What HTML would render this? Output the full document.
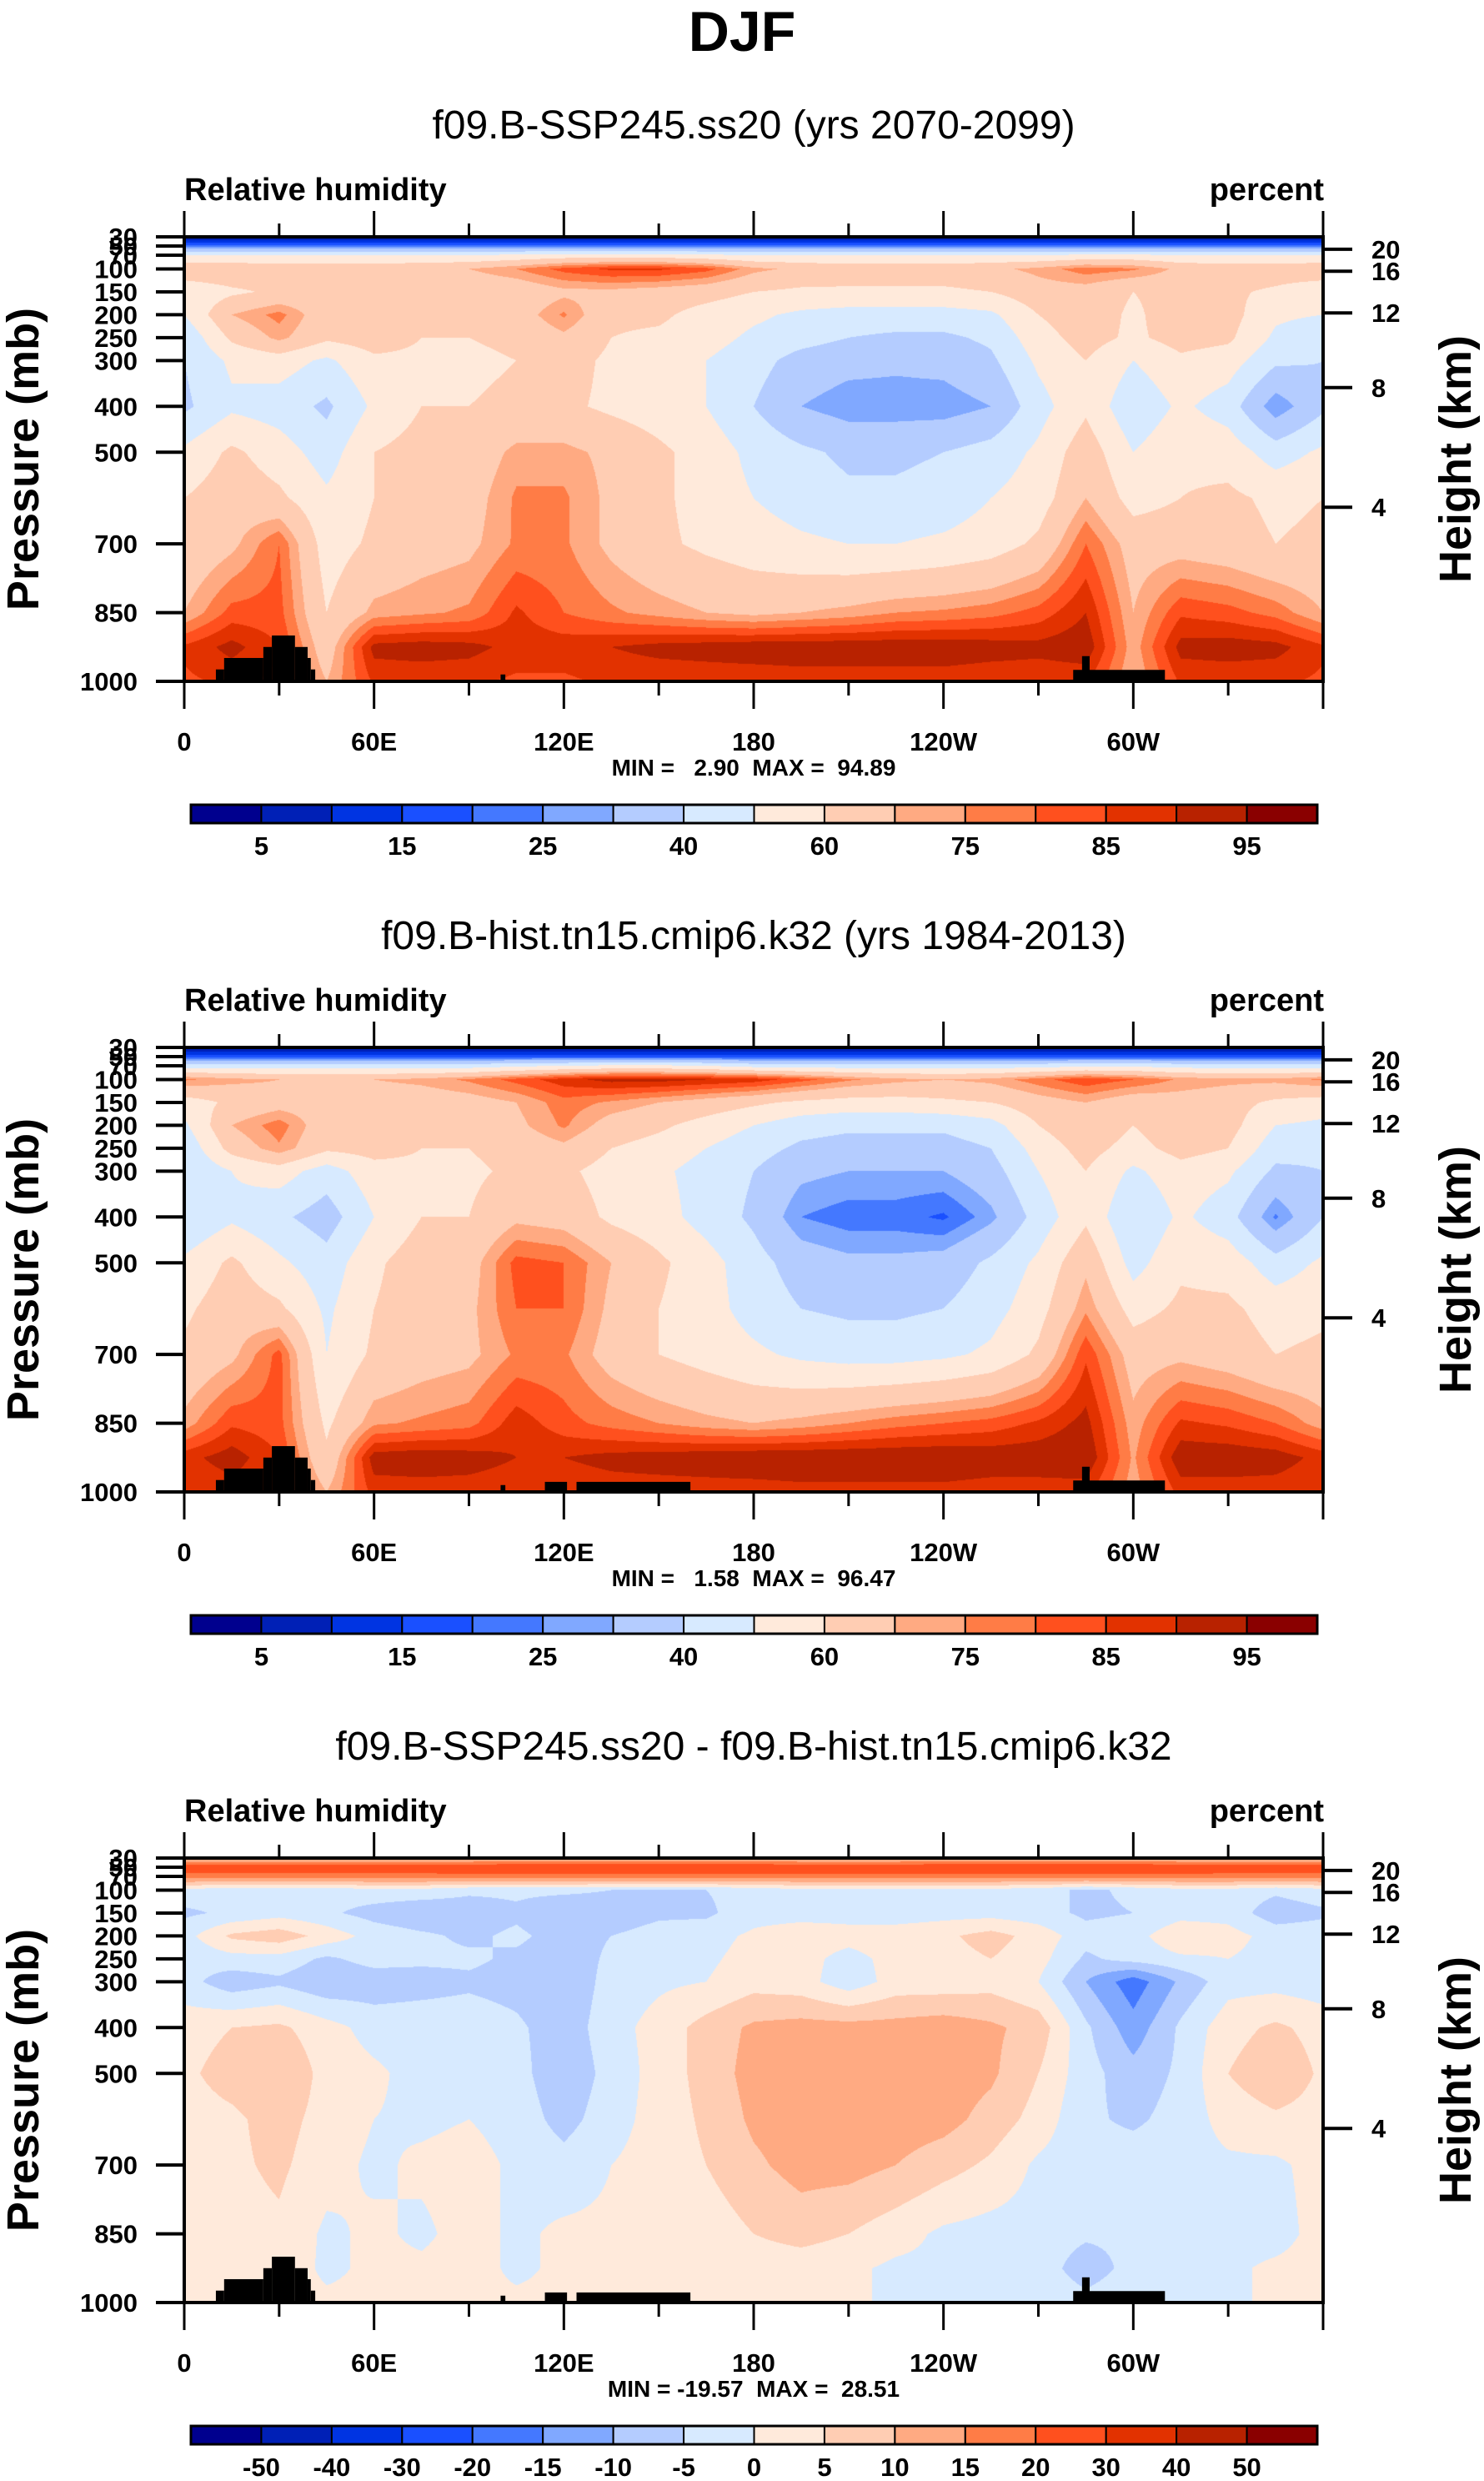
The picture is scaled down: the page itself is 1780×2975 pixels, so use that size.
<!DOCTYPE html>
<html><head><meta charset="utf-8"><style>
html,body{margin:0;padding:0;background:#fff;}
#wrap{position:relative;width:1780px;height:2975px;overflow:hidden;}
canvas{position:absolute;}
svg{position:absolute;left:0;top:0;}
text{font-family:"Liberation Sans",Arial,sans-serif;}
</style></head><body>
<div id="wrap">
<canvas id="c0" width="1366" height="533" style="left:221px;top:284px"></canvas>
<canvas id="c1" width="1366" height="533" style="left:221px;top:1256px"></canvas>
<canvas id="c2" width="1366" height="533" style="left:221px;top:2228px"></canvas>
<svg id="s" width="1780" height="2975" xmlns="http://www.w3.org/2000/svg">
<text x="890" y="61" text-anchor="middle" font-size="68" font-weight="bold">DJF</text>
</svg>
</div>
<script>
const levels=[30,50,70,100,150,200,250,300,400,500,600,700,850,925,1000];
const lons=[0,15,30,45,60,75,90,105,120,135,150,165,180,195,210,225,240,255,270,285,300,315,330,345,360];
const rhThresholds=[5,10,15,20,25,30,40,50,60,70,75,80,85,90,95];
const diffThresholds=[-50,-40,-30,-20,-15,-10,-5,0,5,10,15,20,30,40,50];
const rhLabels=['5','15','25','40','60','75','85','95'];
const diffLabels=['-50','-40','-30','-20','-15','-10','-5','0','5','10','15','20','30','40','50'];
const palette=['#00008e','#0020b6','#0034e2','#1a50ff','#4478ff','#80a8ff','#b4ccff','#d7eaff','#ffeadb','#ffcdb3','#ffaa82','#ff7c46','#ff501e','#e23200','#b82200','#8a0000'];
const pTicks=[30,50,70,100,150,200,250,300,400,500,700,850,1000];
const hTicks=[20,16,12,8,4];
const hTickP=[57,105,196,359,620];
const xTickLabels=['0','60E','120E','180','120W','60W'];
const titles=['f09.B-SSP245.ss20 (yrs 2070-2099)','f09.B-hist.tn15.cmip6.k32 (yrs 1984-2013)','f09.B-SSP245.ss20 - f09.B-hist.tn15.cmip6.k32'];
const minmax=['MIN =   2.90  MAX =  94.89','MIN =   1.58  MAX =  96.47','MIN = -19.57  MAX =  28.51'];
const topoA=[[10,12.6,974],[12.6,25,949],[25,27.7,925],[27.7,35,900],[35,39,925],[39,40,949],[40,41.4,974],[100,101.5,985],[281,310,975],[283.8,286.2,945]];
const topoB=[[114,121,978],[124,160,978]];
const sspRH=[
[4,4,4,4,4,4,4,4,4,4,4,4,4,4,4,4,4,4,4,4,4,4,4,4,4],
[22,22,22,22,22,22,22,22,22,22,22,22,22,22,22,22,22,22,22,22,22,22,22,22,22],
[50,50,50,50,50,50,50,52,54,54,54,52,50,50,50,50,50,50,50,52,52,50,50,50,50],
[68,68,66,66,66,68,70,75,82,86,86,82,72,68,66,66,66,68,72,78,76,68,66,66,68],
[52,58,62,64,62,63,62,63,68,68,66,64,60,58,58,58,58,60,66,66,60,64,62,58,52],
[50,70,77,64,68,62,62,65,76,62,62,56,52,48,46,46,46,48,60,66,58,66,64,52,50],
[42,62,72,62,65,60,60,62,68,60,58,54,48,44,40,38,38,42,56,64,58,64,62,48,42],
[40,52,55,48,58,58,58,60,64,58,55,50,44,36,33,32,33,38,52,60,50,58,55,42,40],
[38,48,45,38,52,60,60,62,62,58,55,50,40,30,26,26,26,30,46,58,42,52,45,25,38],
[52,62,55,45,60,64,64,72,72,68,62,56,47,42,38,38,40,44,52,66,50,58,56,45,52],
[60,66,62,52,60,66,66,76,76,68,62,56,50,45,42,42,44,50,55,70,56,60,62,58,60],
[62,68,80,55,62,66,68,76,76,68,62,58,55,52,50,50,52,55,62,80,66,66,64,60,62],
[70,82,82,60,72,74,76,86,80,76,73,70,68,70,72,75,76,78,82,90,70,84,82,78,70],
[86,92,85,65,92,93,92,88,88,90,92,93,94,94,94,94,94,93,92,94,72,92,93,92,86],
[84,86,84,70,86,86,86,84,84,86,86,86,86,87,87,87,87,86,86,86,70,86,86,86,84]];
const histRH=[
[3,3,3,3,3,3,3,3,3,3,3,3,3,3,3,3,3,3,3,3,3,3,3,3,3],
[18,18,18,18,18,18,18,18,18,18,18,18,18,18,18,18,18,18,18,18,18,18,18,18,18],
[45,45,45,45,45,45,45,48,50,52,52,50,46,45,45,45,45,45,46,48,48,46,45,45,45],
[76,72,70,70,70,72,76,82,88,92,92,90,88,82,76,72,70,72,78,84,80,74,72,72,76],
[55,62,66,66,64,64,66,70,78,74,70,66,62,58,56,56,58,60,66,70,64,66,64,58,55],
[48,70,78,64,70,64,62,68,76,66,62,56,50,44,42,42,42,46,60,68,60,68,64,50,48],
[42,64,74,62,64,60,60,64,68,60,56,50,44,38,36,36,36,40,54,64,56,64,60,44,42],
[40,50,55,45,56,58,58,62,62,56,52,46,40,32,30,30,30,36,50,60,48,56,52,38,40],
[40,48,42,35,50,60,60,68,66,58,54,46,38,25,22,22,19,28,44,58,40,52,44,24,40],
[52,62,52,44,58,66,66,82,80,70,62,54,44,35,32,32,34,42,52,68,46,58,56,44,52],
[58,66,62,48,60,66,68,80,80,68,60,54,46,40,38,38,40,46,56,74,56,62,62,56,58],
[62,68,82,50,62,66,68,76,76,66,60,56,52,48,46,46,48,52,62,84,66,68,65,60,62],
[72,84,82,58,74,76,78,88,82,78,75,72,70,72,75,78,80,82,86,92,72,86,84,80,72],
[88,93,85,62,93,94,93,90,90,92,93,94,95,95,95,95,95,94,94,95,74,94,94,93,88],
[85,87,85,70,87,87,87,86,86,87,87,87,87,88,88,88,88,87,87,87,72,87,87,87,85]];
const diffRH=[
[8,8,8,8,8,8,8,8,8,8,8,8,8,8,8,8,8,8,8,8,8,8,8,8,8],
[24,24,24,24,24,24,25,26,26,26,26,26,26,25,25,25,26,26,26,26,26,25,24,24,24],
[18,18,18,18,18,18,18,18,18,18,18,18,18,18,18,18,18,18,18,18,18,18,18,18,18],
[-2,-3,-3,-3,-2,-2,-4,-4,-4,-5,-5,-5,-3,-2,-2,-2,-2,-2,-3,-6,-4,-2,-2,-4,-2],
[-6,-4,-2,-4,-7,-9,-8,-6,-9,-8,-6,-6,-2,-2,-2,-3,-2,-2,-3,-6,-5,-2,-2,-8,-6],
[-2,6,8,3,-2,-4,-6,-4,-7,-5,-3,-2,1,3,2,3,4,7,3,-3,-2,4,2,-2,-2],
[-4,-2,-2,-6,-3,-4,-4,-6,-8,-4,-2,-1,2,2,-2,2,3,5,2,-6,-3,-1,0,-2,-4],
[-3,-8,-6,-9,-8,-7,-6,-7,-9,-3,-1,0,3,2,-3,2,2,3,0,-10,-18,-9,-2,-2,-3],
[3,5,6,2,-2,-2,-2,-4,-8,-2,2,7,11,12,12,12,13,11,8,-4,-13,-4,3,6,3],
[4,7,10,3,1,-2,-3,-3,-9,-3,2,7,12,13,14,14,13,11,5,-3,-8,-4,5,9,4],
[3,4,7,3,0,-1,0,-2,-7,-2,2,6,11,13,14,13,12,8,3,-4,-6,-3,2,4,3],
[2,4,6,2,-1,1,2,-1,-3,0,2,5,9,12,12,10,7,4,-1,-3,-2,-2,-1,-1,2],
[2,3,4,-1,1,-1,2,-1,1,1,1,2,5,7,5,2,-1,-2,-2,-4,-4,-2,-2,-2,2],
[2,2,3,-1,1,1,2,-1,1,1,1,1,2,2,1,-1,-1,-1,-2,-8,-3,-1,-1,1,2],
[2,2,2,1,1,1,1,1,1,1,1,1,1,1,1,-1,-1,-1,-1,-3,-1,-1,-1,1,2]];

const PX0=221,PX1=1587,PY0=284,PY1=817,DY=972;
const CBX0=229,CBX1=1580,CBY0=965,CBY1=987;
function xOf(lon){return PX0+(PX1-PX0)*lon/360;}
function yOf(p){return PY0+(PY1-PY0)*(p-levels[0])/(levels[levels.length-1]-levels[0]);}
function hex(c){return [parseInt(c.slice(1,3),16),parseInt(c.slice(3,5),16),parseInt(c.slice(5,7),16)];}
const rgb=palette.map(hex);

function drawField(id,grid,thr){
  const cv=document.getElementById(id),ctx=cv.getContext('2d');
  const W=cv.width,H=cv.height,img=ctx.createImageData(W,H);
  const pmin=levels[0],pmax=levels[levels.length-1];
  for(let y=0;y<H;y++){
    const p=pmin+(pmax-pmin)*(y+0.5)/H;
    let k=0;while(k<levels.length-2&&p>levels[k+1])k++;
    const tp=(p-levels[k])/(levels[k+1]-levels[k]);
    for(let x=0;x<W;x++){
      const lon=360*(x+0.5)/W;
      let j=Math.min(Math.floor(lon/15),lons.length-2);
      const tl=(lon-lons[j])/15;
      const v=(grid[k][j]*(1-tl)+grid[k][j+1]*tl)*(1-tp)+(grid[k+1][j]*(1-tl)+grid[k+1][j+1]*tl)*tp;
      let ci=0;while(ci<thr.length&&v>=thr[ci])ci++;
      const c=rgb[ci],o=(y*W+x)*4;
      img.data[o]=c[0];img.data[o+1]=c[1];img.data[o+2]=c[2];img.data[o+3]=255;
    }
  }
  ctx.putImageData(img,0,0);
}
drawField('c0',sspRH,rhThresholds);
drawField('c1',histRH,rhThresholds);
drawField('c2',diffRH,diffThresholds);

const NS='http://www.w3.org/2000/svg',svg=document.getElementById('s');
function add(tag,attrs,txt){const e=document.createElementNS(NS,tag);for(const a in attrs)e.setAttribute(a,attrs[a]);if(txt!==undefined)e.textContent=txt;svg.appendChild(e);return e;}

for(let i=0;i<3;i++){
  const oy=DY*i;
  let e;
  e=add('text',{x:904,y:166+oy,'text-anchor':'middle','font-size':48},titles[i]);
  
  
  e=add('text',{x:221,y:240+oy,'font-size':38,'font-weight':'bold'},'Relative humidity');
  
  
  e=add('text',{x:1588,y:240+oy,'text-anchor':'end','font-size':38,'font-weight':'bold'},'percent');
  
  
  const topo=i===0?topoA:topoA.concat(topoB);
  topo.forEach(t=>{
    const r=add('rect',{x:xOf(t[0]),y:yOf(t[2])+oy,width:xOf(t[1])-xOf(t[0]),height:PY1-yOf(t[2]),fill:'#000'});
    
    
  });
  e=add('rect',{x:PX0,y:PY0+oy,width:PX1-PX0,height:PY1-PY0,fill:'none',stroke:'#000','stroke-width':4});
  
  
  for(let lon=0;lon<=360;lon+=30){
    const major=lon%60===0,x=xOf(lon);
    e=add('line',{x1:x,x2:x,y1:PY0+oy,y2:PY0+oy-(major?31:16),stroke:'#000','stroke-width':3});
    
    
    e=add('line',{x1:x,x2:x,y1:PY1+oy,y2:PY1+oy+(major?33:17),stroke:'#000','stroke-width':3});
    
    
  }
  xTickLabels.forEach((l,k)=>{
    e=add('text',{x:xOf(60*k),y:900+oy,'text-anchor':'middle','font-size':31,'font-weight':'bold'},l);
    
    
  });
  pTicks.forEach(p=>{
    const y=yOf(p)+oy;
    e=add('line',{x1:187,x2:PX0,y1:y,y2:y,stroke:'#000','stroke-width':4});
    
    
    e=add('text',{x:165,y:y+11,'text-anchor':'end','font-size':31,'font-weight':'bold'},String(p));
    
    
  });
  hTicks.forEach((h,k)=>{
    const y=yOf(hTickP[k])+oy;
    e=add('line',{x1:PX1,x2:1622,y1:y,y2:y,stroke:'#000','stroke-width':4});
    
    
    e=add('text',{x:1645,y:y+11,'font-size':31,'font-weight':'bold'},String(h));
    
    
  });
  const cy=(PY0+PY1)/2+oy;
  e=add('text',{x:46,y:cy,'text-anchor':'middle','font-size':54,'font-weight':'bold',transform:'rotate(-90 46 '+cy+')'},'Pressure (mb)');
  
  
  e=add('text',{x:1764,y:cy,'text-anchor':'middle','font-size':54,'font-weight':'bold',transform:'rotate(-90 1764 '+cy+')'},'Height (km)');
  
  
  e=add('text',{x:904,y:930+oy,'text-anchor':'middle','font-size':28,'font-weight':'bold',style:'white-space:pre'},minmax[i]);
  
  
  const bw=(CBX1-CBX0)/palette.length;
  palette.forEach((c,k)=>{
    const r=add('rect',{x:CBX0+k*bw,y:CBY0+oy,width:bw,height:CBY1-CBY0,fill:c,stroke:'#000','stroke-width':2});
    
    
  });
  e=add('rect',{x:CBX0,y:CBY0+oy,width:CBX1-CBX0,height:CBY1-CBY0,fill:'none',stroke:'#000','stroke-width':3});
  
  
  if(i<2){
    rhLabels.forEach((l,k)=>{
      const t=add('text',{x:CBX0+(2*k+1)*bw,y:1025+oy,'text-anchor':'middle','font-size':31,'font-weight':'bold'},l);
      
      
    });
  } else {
    diffLabels.forEach((l,k)=>{
      const t=add('text',{x:CBX0+(k+1)*bw,y:1025+oy,'text-anchor':'middle','font-size':31,'font-weight':'bold'},l);
      
      
    });
  }
}
</script>
</body></html>
